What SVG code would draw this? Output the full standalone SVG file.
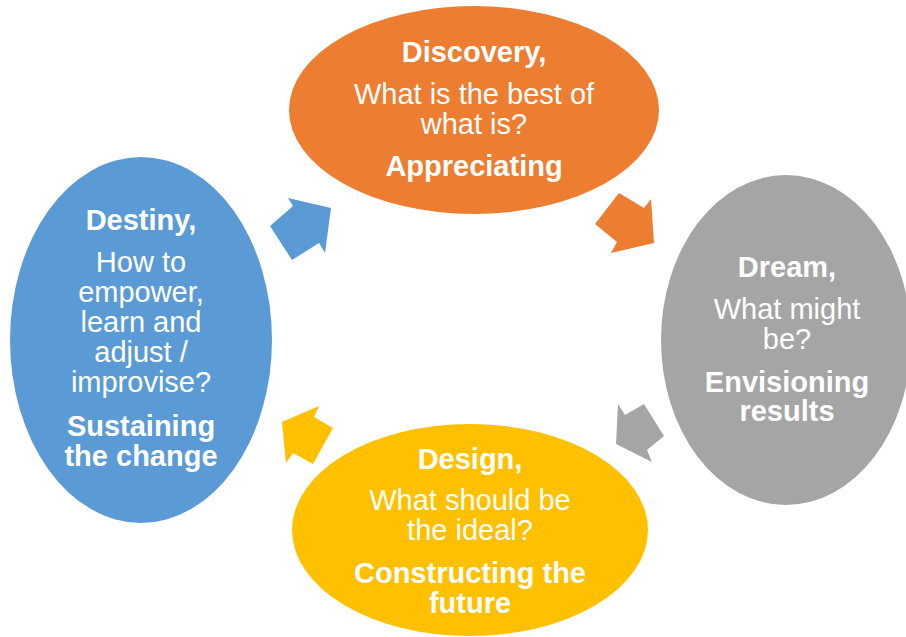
<svg xmlns="http://www.w3.org/2000/svg" width="906" height="637" viewBox="0 0 906 637">
<style>
text{font-family:"Liberation Sans",Arial,sans-serif;font-size:29px;fill:#fff;text-anchor:middle}
.b{font-weight:bold}
</style>
<rect width="906" height="637" fill="#fff"/>
<g id="connectors">
<polygon points="270,226 293,206 288,198 331,208 325,253 319,243 292,260" fill="#5B9BD5"/>
<polygon points="619,193 644,208 651,199 654,243 611,253 617,242 595,224" fill="#ED7D31"/>
<polygon points="644,404 664,436 647,450 652,462 616,444 618,404 625,415" fill="#A5A5A5"/>
<polygon points="333,428 313,464 293,453 286,463 282,422 319,406 314,417" fill="#FFC000"/>
</g>
<g id="discovery">
<ellipse cx="474" cy="110" rx="185" ry="104" fill="#ED7D31"/>
<text class="b" x="474" y="62">Discovery,</text>
<text x="474" y="104">What is the best of</text>
<text x="474" y="134">what is?</text>
<text class="b" x="474" y="176">Appreciating</text>
</g>
<g id="dream">
<ellipse cx="786" cy="340" rx="125" ry="165" fill="#A5A5A5"/>
<text class="b" x="787" y="277">Dream,</text>
<text x="787" y="319">What might</text>
<text x="787" y="349">be?</text>
<text class="b" x="787" y="392">Envisioning</text>
<text class="b" x="787" y="421">results</text>
</g>
<g id="design">
<ellipse cx="470" cy="530" rx="178" ry="106" fill="#FFC000"/>
<text class="b" x="470" y="469">Design,</text>
<text x="470" y="510">What should be</text>
<text x="470" y="540">the ideal?</text>
<text class="b" x="470" y="583">Constructing the</text>
<text class="b" x="470" y="613">future</text>
</g>
<g id="destiny">
<ellipse cx="141" cy="340" rx="131" ry="183" fill="#5B9BD5"/>
<text class="b" x="141" y="230">Destiny,</text>
<text x="141" y="272">How to</text>
<text x="141" y="302">empower,</text>
<text x="141" y="332">learn and</text>
<text x="141" y="362">adjust /</text>
<text x="141" y="392">improvise?</text>
<text class="b" x="141" y="436">Sustaining</text>
<text class="b" x="141" y="466">the change</text>
</g>
</svg>
